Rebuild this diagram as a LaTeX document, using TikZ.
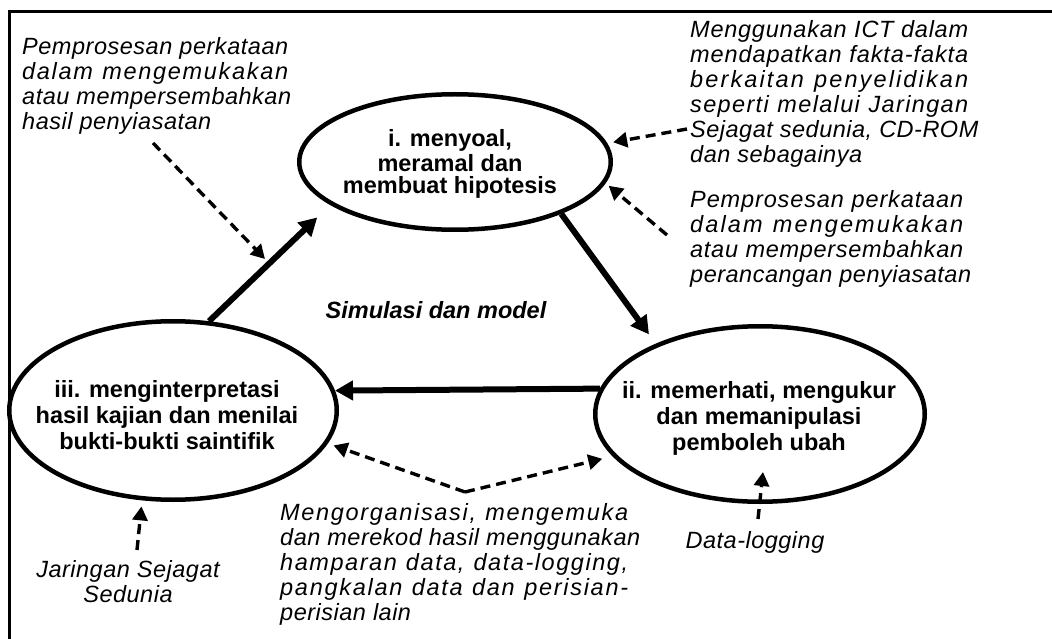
\documentclass[tikz,border=0pt]{standalone}
\usepackage{fontspec}
\setmainfont{Liberation Sans}
\usetikzlibrary{arrows.meta,shapes.geometric}
\makeatletter
\newdimen\sp@ls \sp@ls=0.5pt
\def\spread#1{\sp@read#1\sp@end}
\def\sp@end{\sp@end}
\def\sp@read{\futurelet\sp@next\sp@check}
\def\sp@check{%
  \ifx\sp@next\sp@end \let\sp@go\sp@fin
  \else\ifx\sp@next\@sptoken \let\sp@go\sp@space
  \else \let\sp@go\sp@char \fi\fi
  \sp@go}
\def\sp@fin\sp@end{\unskip}
\def\sp@char#1{#1\hskip\sp@ls plus 1fil\relax\sp@read}
\expandafter\def\expandafter\sp@space\space{\unskip\hskip\dimexpr\fontdimen2\font+\sp@ls\relax plus 2fil\relax\sp@read}
\makeatother
\newcommand\jline[2]{\makebox[#1][s]{\strut\spread{#2}}}
\newcommand\nline[1]{\hbox{\strut\spread{#1}}}
\tikzset{
  bubble/.style={ellipse, draw, line width=4.5pt, inner sep=0pt},
  etext/.style={anchor=north, align=center, inner sep=0pt},
  note/.style={anchor=north west, align=left, inner sep=0pt, font=\fontsize{23.5}{25}\selectfont\itshape},
  cnote/.style={anchor=north, align=center, inner sep=0pt, font=\fontsize{23.5}{25}\selectfont\itshape},
  flow/.style={line width=6pt, -{Triangle[length=18pt,width=19pt]}},
  hint/.style={line width=3.4pt, dash pattern=on 10pt off 6pt, -{Triangle[length=14pt,width=15pt]}},
}
\begin{document}
\begin{tikzpicture}[x=1pt,y=-1pt]
\path[use as bounding box] (0,0) rectangle (1052,639);
\clip (0,0) rectangle (1052,639);
\draw[line width=3pt] (9,11.5) rectangle (1080,680);

% ellipses
\node[bubble, minimum width=311.5pt, minimum height=135.5pt] (q1) at (455,162) {};
\node[bubble, minimum width=329.5pt, minimum height=175.5pt] (q2) at (760,414) {};
\node[bubble, minimum width=327.5pt, minimum height=178.5pt] (q3) at (173,410.5) {};

\node[etext, font=\fontsize{23.5}{22}\selectfont\bfseries] (t1) at (450,129.6)
  {\strut i. menyoal,\\meramal dan\\membuat hipotesis};
\node[etext, font=\fontsize{23.5}{26}\selectfont\bfseries] (t2) at (759,379.8)
  {\strut ii. memerhati, mengukur\\dan memanipulasi\\pemboleh ubah};
\node[etext, font=\fontsize{23.5}{26}\selectfont\bfseries] (t3) at (167,378.8)
  {\strut iii. menginterpretasi\\hasil kajian dan menilai\\bukti-bukti saintifik};

\node[anchor=base, inner sep=0pt, font=\fontsize{23.5}{25}\selectfont\bfseries\itshape] (sim) at (436,318) {Simulasi dan model};

% notes
\node[note] (nL) at (22,36.5)
  {\jline{266pt}{Pemprosesan perkataan}\\
   \jline{266pt}{dalam mengemukakan}\\
   \jline{266pt}{atau mempersembahkan}\\
   \nline{hasil penyiasatan}};
\node[note] (nR1) at (690,20)
  {\jline{278pt}{Menggunakan ICT dalam}\\
   \jline{278pt}{mendapatkan fakta-fakta}\\
   \jline{278pt}{berkaitan penyelidikan}\\
   \jline{278pt}{seperti melalui Jaringan}\\
   \jline{278pt}{Sejagat sedunia, CD-ROM}\\
   \nline{dan sebagainya}};
\node[note] (nR2) at (690,189.5)
  {\jline{273pt}{Pemprosesan perkataan}\\
   \jline{273pt}{dalam mengemukakan}\\
   \jline{273pt}{atau mempersembahkan}\\
   \nline{perancangan penyiasatan}};
\node[note] (nB) at (280,502.5)
  {\jline{348pt}{Mengorganisasi, mengemuka}\\
   \jline{348pt}{dan merekod hasil menggunakan}\\
   \jline{348pt}{hamparan data, data-logging,}\\
   \jline{348pt}{pangkalan data dan perisian-}\\
   \nline{perisian lain}};
\node[cnote] (nJ) at (128,559.5) {\nline{Jaringan Sejagat}\\\nline{Sedunia}};
\node[cnote] (nD) at (755,530.5) {\nline{Data-logging}};

% thick cycle arrows
\draw[flow, shorten >=18pt] (q3.68) -- (q1.199.3);
\draw[flow, shorten >=11.5pt] (q1.-26.3) -- (q2.146.5);
\draw[flow] (q2.171.5) -- (q3.7);

% dashed hint arrows
\coordinate (h1s) at (153,143);
\coordinate (h1e) at (265,259);
\coordinate (h2s) at (687,129);
\coordinate (h3s) at (667,235);
\coordinate (h4v) at (465,492);
\coordinate (h5s) at (137,550);
\coordinate (h6s) at (758,519);
\coordinate (h6e) at (763,472);

\draw[hint] (h1s) -- (h1e);
\draw[hint, shorten >=6pt] (h2s) -- (q1.7);
\draw[hint, shorten >=4pt] (h3s) -- (q1.-8.5);
\draw[hint, shorten >=6pt] (h4v) -- (q3.-12);
\draw[hint, shorten >=10.6pt] (h4v) -- (q2.196.8);
\draw[hint, shorten >=6pt] (h5s) -- (q3.-109.5);
\draw[hint] (h6s) -- (h6e);
\end{tikzpicture}
\end{document}
